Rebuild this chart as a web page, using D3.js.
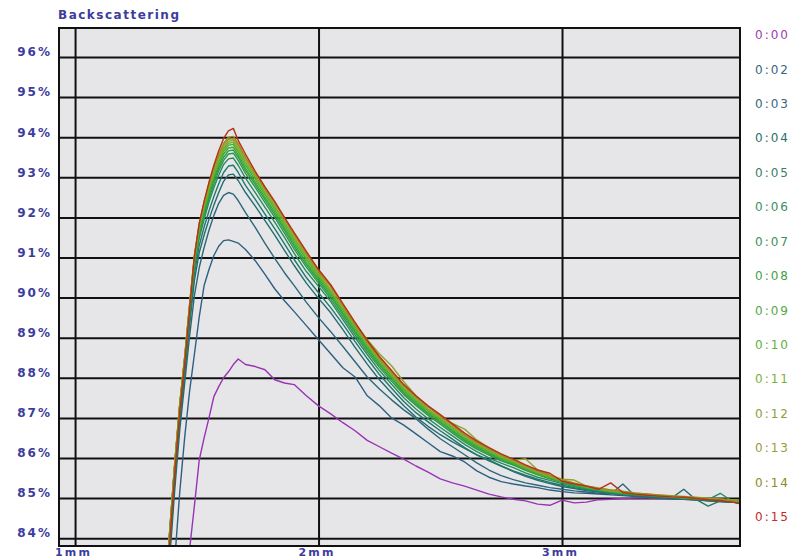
<!DOCTYPE html>
<html>
<head>
<meta charset="utf-8">
<script src="https://cdn.jsdelivr.net/npm/d3@7"></script>
<style>
  html, body { margin: 0; padding: 0; background: #ffffff; }
  svg { display: block; }
  text { font-family: "DejaVu Sans", Verdana, sans-serif; }
</style>
</head>
<body>
<svg id="chart" width="798" height="559"></svg>
<script>
// Measurement positions (mm) shared by every scan
const positionMm = [
  1.37, 1.39, 1.41, 1.43, 1.45, 1.47, 1.49, 1.51, 1.53, 1.55,
  1.57, 1.59, 1.61, 1.63, 1.65, 1.67, 1.70, 1.74, 1.78, 1.82,
  1.86, 1.90, 1.95, 2.00, 2.05, 2.10, 2.15, 2.20, 2.25, 2.30,
  2.35, 2.40, 2.45, 2.50, 2.55, 2.60, 2.65, 2.70, 2.75, 2.80,
  2.85, 2.90, 2.95, 3.00, 3.05, 3.10, 3.15, 3.20, 3.25, 3.30,
  3.35, 3.40, 3.45, 3.50, 3.55, 3.60, 3.65, 3.70, 3.73
];

// Scan times
const timeLabels = ["0:00", "0:02", "0:03", "0:04", "0:05", "0:06", "0:07", "0:08",
                    "0:09", "0:10", "0:11", "0:12", "0:13", "0:14", "0:15"];

// Backscattering (%) per scan
const bs000 = [78.0, 79.0, 80.0, 81.2, 82.5, 83.7, 84.8, 85.95, 86.5, 87.0,
  87.53, 87.78, 88.0, 88.15, 88.33, 88.47, 88.33, 88.28, 88.2, 87.95,
  87.87, 87.83, 87.55, 87.3, 87.1, 86.88, 86.68, 86.44, 86.28, 86.12,
  85.97, 85.8, 85.65, 85.48, 85.38, 85.3, 85.2, 85.1, 85.03, 84.97,
  84.93, 84.85, 84.82, 84.95, 84.88, 84.9, 84.96, 84.97, 84.99, 85.0,
  85.0, 84.99, 84.98, 84.97, 84.96, 84.94, 84.92, 84.9, 84.88];
const bs002 = [80.5, 82.2, 83.5, 85.15, 86.5, 87.65, 88.58, 89.52, 90.3, 90.7,
  91.05, 91.28, 91.42, 91.44, 91.4, 91.36, 91.2, 90.92, 90.58, 90.22,
  89.92, 89.65, 89.3, 88.95, 88.6, 88.25, 88.02, 87.55, 87.3, 87.0,
  86.82, 86.6, 86.38, 86.16, 86.05, 85.9, 85.68, 85.52, 85.41, 85.35,
  85.3, 85.26, 85.2, 85.16, 85.13, 85.12, 85.1, 85.08, 85.06, 85.04,
  85.02, 85.0, 84.99, 84.98, 84.96, 84.94, 84.92, 84.9, 84.88];
const bs003 = [81.9, 83.6, 85.25, 86.7, 87.85, 89.02, 90.05, 90.75, 91.25, 91.68,
  92.05, 92.35, 92.55, 92.62, 92.58, 92.42, 92.12, 91.75, 91.35, 90.98,
  90.62, 90.3, 89.88, 89.5, 89.15, 88.78, 88.4, 88.02, 87.72, 87.45,
  87.2, 86.98, 86.72, 86.48, 86.28, 86.08, 85.88, 85.7, 85.56, 85.46,
  85.38, 85.32, 85.26, 85.22, 85.18, 85.15, 85.12, 85.1, 85.35, 85.05,
  85.03, 85.0, 84.98, 84.97, 84.95, 84.93, 84.91, 84.9, 84.88];
const bs004 = [82.1, 83.8, 85.45, 86.92, 88.08, 89.3, 90.42, 91.12, 91.56, 91.95,
  92.3, 92.62, 92.9, 93.06, 93.08, 92.92, 92.62, 92.28, 91.92, 91.56,
  91.18, 90.8, 90.36, 89.98, 89.62, 89.2, 88.76, 88.34, 87.95, 87.62,
  87.3, 87.02, 86.79, 86.58, 86.4, 86.24, 86.08, 85.95, 85.8, 85.66,
  85.54, 85.44, 85.36, 85.29, 85.24, 85.19, 85.15, 85.11, 85.08, 85.06,
  85.04, 85.02, 85.0, 85.22, 84.96, 84.94, 84.92, 84.9, 84.88];
const bs005 = [82.2, 83.9, 85.55, 87.02, 88.18, 89.42, 90.58, 91.3, 91.76, 92.16,
  92.52, 92.84, 93.12, 93.28, 93.3, 93.12, 92.8, 92.45, 92.08, 91.72,
  91.34, 90.95, 90.5, 90.12, 89.75, 89.34, 88.9, 88.48, 88.08, 87.74,
  87.41, 87.13, 86.9, 86.68, 86.47, 86.26, 86.08, 85.93, 85.8, 85.68,
  85.57, 85.47, 85.39, 85.32, 85.26, 85.21, 85.16, 85.12, 85.09, 85.07,
  85.05, 85.03, 85.01, 84.99, 84.97, 84.8, 84.93, 84.91, 84.89];
const bs006 = [82.3, 84.0, 85.65, 87.12, 88.28, 89.55, 90.75, 91.48, 91.95, 92.38,
  92.74, 93.05, 93.32, 93.46, 93.48, 93.3, 92.98, 92.62, 92.25, 91.88,
  91.5, 91.1, 90.65, 90.28, 89.9, 89.45, 89.0, 88.58, 88.18, 87.84,
  87.5, 87.22, 86.98, 86.76, 86.55, 86.34, 86.16, 86.0, 85.87, 85.76,
  85.63, 85.52, 85.44, 85.36, 85.29, 85.23, 85.18, 85.14, 85.1, 85.08,
  85.06, 85.04, 85.02, 85.0, 84.98, 84.96, 85.12, 84.92, 84.9];
const bs007 = [82.5, 84.2, 85.85, 87.28, 88.4, 89.66, 90.82, 91.56, 92.04, 92.46,
  92.84, 93.16, 93.42, 93.58, 93.6, 93.42, 93.1, 92.75, 92.37, 92.0,
  91.61, 91.21, 90.76, 90.36, 89.97, 89.52, 89.07, 88.65, 88.26, 87.91,
  87.58, 87.31, 87.06, 86.84, 86.62, 86.4, 86.22, 86.07, 85.93, 85.82,
  85.69, 85.58, 85.48, 85.39, 85.31, 85.25, 85.2, 85.15, 85.11, 85.09,
  85.06, 85.04, 85.02, 85.0, 84.98, 84.96, 84.94, 84.93, 84.9];
const bs008 = [82.55, 84.25, 85.88, 87.3, 88.42, 89.7, 90.87, 91.62, 92.1, 92.53,
  92.92, 93.24, 93.5, 93.66, 93.68, 93.5, 93.17, 92.82, 92.44, 92.07,
  91.68, 91.28, 90.82, 90.42, 90.03, 89.58, 89.13, 88.71, 88.31, 87.96,
  87.62, 87.35, 87.1, 86.88, 86.66, 86.44, 86.26, 86.1, 85.96, 85.84,
  85.71, 85.59, 85.49, 85.4, 85.32, 85.26, 85.2, 85.16, 85.12, 85.09,
  85.07, 85.05, 85.03, 85.01, 84.99, 84.97, 84.95, 84.93, 84.91];
const bs009 = [82.6, 84.28, 85.9, 87.32, 88.45, 89.72, 90.9, 91.67, 92.17, 92.6,
  92.98, 93.3, 93.58, 93.73, 93.75, 93.56, 93.23, 92.88, 92.5, 92.13,
  91.74, 91.34, 90.88, 90.47, 90.08, 89.63, 89.18, 88.75, 88.35, 88.0,
  87.66, 87.39, 87.13, 86.91, 86.69, 86.47, 86.29, 86.13, 85.98, 85.86,
  85.72, 85.6, 85.5, 85.41, 85.33, 85.26, 85.21, 85.16, 85.12, 85.1,
  85.07, 85.05, 85.03, 85.01, 84.99, 84.97, 84.95, 84.93, 84.91];
const bs010 = [82.65, 84.3, 85.95, 87.35, 88.48, 89.75, 90.95, 91.72, 92.22, 92.66,
  93.05, 93.38, 93.65, 93.8, 93.82, 93.63, 93.3, 92.95, 92.57, 92.2,
  91.8, 91.4, 90.95, 90.52, 90.13, 89.68, 89.23, 88.8, 88.4, 88.04,
  87.7, 87.43, 87.17, 86.95, 86.73, 86.5, 86.32, 86.16, 86.0, 85.88,
  85.74, 85.62, 85.52, 85.42, 85.34, 85.27, 85.22, 85.17, 85.13, 85.1,
  85.08, 85.05, 85.03, 85.01, 84.99, 84.97, 84.95, 84.94, 84.92];
const bs011 = [82.6, 84.3, 85.9, 87.35, 88.5, 89.78, 90.98, 91.75, 92.26, 92.7,
  93.1, 93.42, 93.7, 93.85, 93.87, 93.68, 93.36, 93.0, 92.62, 92.25,
  91.86, 91.46, 91.0, 90.56, 90.17, 89.72, 89.27, 88.83, 88.43, 88.07,
  87.73, 87.46, 87.2, 86.98, 86.76, 86.53, 86.34, 86.18, 86.02, 85.9,
  85.76, 85.64, 85.53, 85.43, 85.35, 85.28, 85.22, 85.18, 85.14, 85.11,
  85.08, 85.06, 85.04, 85.01, 84.99, 84.97, 84.96, 84.94, 84.92];
const bs012 = [82.55, 84.2, 85.85, 87.3, 88.48, 89.78, 91.0, 91.78, 92.3, 92.75,
  93.15, 93.48, 93.74, 93.9, 93.92, 93.74, 93.42, 93.05, 92.68, 92.3,
  91.9, 91.5, 91.05, 90.6, 90.2, 89.75, 89.3, 88.86, 88.46, 88.1,
  87.76, 87.5, 87.22, 87.0, 86.78, 86.56, 86.36, 86.2, 86.04, 85.92,
  85.77, 85.65, 85.54, 85.44, 85.36, 85.29, 85.23, 85.18, 85.15, 85.11,
  85.09, 85.06, 85.04, 85.02, 85.0, 84.98, 84.96, 84.95, 84.92];
const bs013 = [82.6, 84.25, 85.9, 87.35, 88.5, 89.8, 91.05, 91.82, 92.35, 92.8,
  93.2, 93.52, 93.8, 93.95, 93.96, 93.8, 93.48, 93.12, 92.75, 92.36,
  91.98, 91.56, 91.12, 90.66, 90.28, 89.82, 89.36, 88.95, 88.6, 88.3,
  87.9, 87.55, 87.28, 87.05, 86.86, 86.72, 86.45, 86.25, 86.08, 85.94,
  85.98, 85.7, 85.58, 85.47, 85.45, 85.3, 85.25, 85.2, 85.17, 85.13,
  85.1, 85.08, 85.06, 85.04, 85.02, 85.0, 84.98, 84.96, 84.94];
const bs014 = [82.5, 84.2, 85.85, 87.3, 88.5, 89.8, 91.05, 91.85, 92.38, 92.85,
  93.25, 93.58, 93.85, 94.0, 94.02, 93.84, 93.5, 93.1, 92.72, 92.37,
  91.96, 91.58, 91.1, 90.65, 90.27, 89.8, 89.33, 88.9, 88.5, 88.14,
  87.8, 87.52, 87.27, 87.04, 86.82, 86.58, 86.39, 86.23, 86.07, 85.95,
  85.8, 85.68, 85.56, 85.46, 85.38, 85.3, 85.24, 85.2, 85.16, 85.12,
  85.1, 85.07, 85.05, 85.03, 85.01, 84.98, 84.97, 84.95, 84.93];
const bs015 = [82.3, 84.0, 85.65, 87.15, 88.33, 89.67, 91.02, 91.85, 92.4, 92.88,
  93.3, 93.66, 93.97, 94.16, 94.22, 93.92, 93.58, 93.15, 92.76, 92.4,
  92.0, 91.62, 91.15, 90.7, 90.32, 89.85, 89.38, 88.93, 88.53, 88.18,
  87.83, 87.55, 87.3, 87.08, 86.85, 86.62, 86.42, 86.26, 86.1, 85.97,
  85.83, 85.7, 85.62, 85.42, 85.35, 85.3, 85.22, 85.38, 85.14, 85.1,
  85.07, 85.05, 85.03, 85.02, 84.99, 84.96, 84.94, 84.9, 84.86];

const scans = [bs000, bs002, bs003, bs004, bs005, bs006, bs007, bs008,
               bs009, bs010, bs011, bs012, bs013, bs014, bs015];

const scanColors = ["#9a32b4", "#2d5f82", "#2b6779", "#246c70", "#1f7a6a", "#2a8a5e",
                    "#2e9650", "#2aa040", "#3aa838", "#4cb030", "#68b030", "#88a82c",
                    "#96a02a", "#a08a22", "#b3321a"];
const legendColors = ["#a040a8", "#3a6480", "#336a78", "#2c6e6c", "#3a7e68", "#3e8c62",
                      "#3e9058", "#46a048", "#54a844", "#62b03c", "#7cb040", "#8aa03a",
                      "#9a9a3a", "#8e8a26", "#c42a2a"];

const yTicks = [84, 85, 86, 87, 88, 89, 90, 91, 92, 93, 94, 95, 96];
const xTicks = [1, 2, 3];

// Layout
const plot = { left: 59, right: 740, top: 28, bottom: 546 };
const labelBlue = "#3c3c9c";

const svg = d3.select("#chart");

const x = d3.scaleLinear().domain([0.934, 3.731]).range([plot.left, plot.right]);
const y = d3.scaleLinear().domain([83.805, 96.723]).range([plot.bottom, plot.top]);

// Plot background
svg.append("rect")
  .attr("x", plot.left).attr("y", plot.top)
  .attr("width", plot.right - plot.left).attr("height", plot.bottom - plot.top)
  .attr("fill", "#e6e6e9");

// Horizontal grid + percentage labels
const yAxis = d3.axisLeft(y)
  .tickValues(yTicks)
  .tickSize(-(plot.right - plot.left))
  .tickPadding(7)
  .tickFormat(d => d + "%");

const gy = svg.append("g")
  .attr("transform", `translate(${plot.left},0)`)
  .call(yAxis);
gy.select(".domain").remove();
gy.selectAll(".tick line").attr("stroke", "#111").attr("stroke-width", 2);
gy.selectAll(".tick text")
  .attr("fill", labelBlue)
  .attr("font-size", 12)
  .attr("font-weight", "bold")
  .attr("letter-spacing", 2)
  .attr("dy", "-0.1em");

// Vertical grid + mm labels
const xAxis = d3.axisBottom(x)
  .tickValues(xTicks)
  .tickSize(-(plot.bottom - plot.top))
  .tickPadding(0)
  .tickFormat(d => d + "mm");

const gx = svg.append("g")
  .attr("transform", `translate(0,${plot.bottom})`)
  .call(xAxis);
gx.select(".domain").remove();
gx.selectAll(".tick line").attr("stroke", "#111").attr("stroke-width", 2);
gx.selectAll(".tick text")
  .attr("fill", labelBlue)
  .attr("font-size", 11)
  .attr("font-weight", "bold")
  .attr("letter-spacing", 2.2)
  .attr("x", -2)
  .attr("y", 10)
  .attr("dy", null);

// Frame
svg.append("rect")
  .attr("x", plot.left).attr("y", plot.top)
  .attr("width", plot.right - plot.left).attr("height", plot.bottom - plot.top)
  .attr("fill", "none").attr("stroke", "#111").attr("stroke-width", 2);

// Curves
svg.append("clipPath").attr("id", "plot-clip")
  .append("rect")
  .attr("x", plot.left + 1).attr("y", plot.top + 1)
  .attr("width", plot.right - plot.left - 2).attr("height", plot.bottom - plot.top - 2);

const line = d3.line()
  .x((d, i) => x(positionMm[i]))
  .y(d => y(d));

svg.append("g")
  .attr("clip-path", "url(#plot-clip)")
  .selectAll("path")
  .data(scans)
  .join("path")
  .attr("d", d => line(d.slice(0, positionMm.length)))
  .attr("fill", "none")
  .attr("stroke", (d, i) => scanColors[i])
  .attr("stroke-width", 1.4)
  .attr("stroke-linejoin", "round");

// Title
svg.append("text")
  .attr("x", 58).attr("y", 19)
  .attr("fill", labelBlue)
  .attr("font-size", 12)
  .attr("font-weight", "bold")
  .attr("letter-spacing", 1.5)
  .text("Backscattering");

// Time legend
const legendY = d3.scalePoint().domain(timeLabels).range([35, 517]);
svg.append("g")
  .selectAll("text")
  .data(timeLabels)
  .join("text")
  .attr("x", 755)
  .attr("y", d => legendY(d))
  .attr("dy", "0.35em")
  .attr("fill", (d, i) => legendColors[i])
  .attr("font-size", 12)
  .attr("letter-spacing", 2)
  .text(d => d);
</script>
</body>
</html>
